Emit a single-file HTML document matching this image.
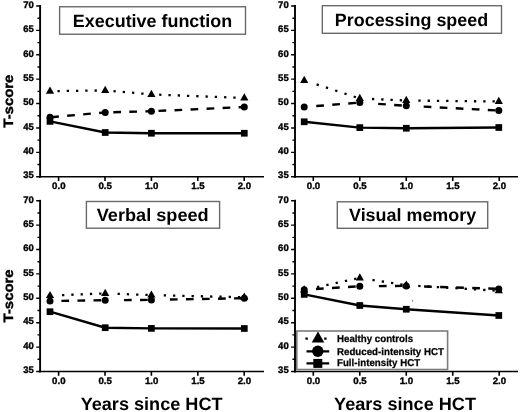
<!DOCTYPE html>
<html lang="en"><head><meta charset="utf-8"><title>T-score by years since HCT</title>
<style>html,body{margin:0;padding:0;background:#fff}body{width:520px;height:412px;overflow:hidden}svg{display:block}text{font-family:"Liberation Sans", Arial, sans-serif;font-weight:700;fill:#000;text-rendering:geometricPrecision}</style></head><body>
<svg width="520" height="412" viewBox="0 0 520 412">
<rect width="520" height="412" fill="#fff"/>
<path d="M40.10 5.10V177.63" stroke="#000" stroke-width="1.9" fill="none"/>
<path d="M39.20 176.73H264.00" stroke="#000" stroke-width="1.65" fill="none"/>
<path d="M36.20 6.00H40.10M37.50 18.20H40.10M36.20 30.39H40.10M37.50 42.59H40.10M36.20 54.78H40.10M37.50 66.97H40.10M36.20 79.17H40.10M37.50 91.37H40.10M36.20 103.56H40.10M37.50 115.75H40.10M36.20 127.95H40.10M37.50 140.15H40.10M36.20 152.34H40.10M37.50 164.53H40.10M36.20 176.73H40.10" stroke="#000" stroke-width="1.4" fill="none"/>
<text transform="translate(33.80 7.75)" font-size="9.5" text-anchor="end" stroke="#000" stroke-width="0.35">70</text>
<text transform="translate(33.80 32.14)" font-size="9.5" text-anchor="end" stroke="#000" stroke-width="0.35">65</text>
<text transform="translate(33.80 56.53)" font-size="9.5" text-anchor="end" stroke="#000" stroke-width="0.35">60</text>
<text transform="translate(33.80 80.92)" font-size="9.5" text-anchor="end" stroke="#000" stroke-width="0.35">55</text>
<text transform="translate(33.80 105.31)" font-size="9.5" text-anchor="end" stroke="#000" stroke-width="0.35">50</text>
<text transform="translate(33.80 129.70)" font-size="9.5" text-anchor="end" stroke="#000" stroke-width="0.35">45</text>
<text transform="translate(33.80 154.09)" font-size="9.5" text-anchor="end" stroke="#000" stroke-width="0.35">40</text>
<text transform="translate(33.80 178.48)" font-size="9.5" text-anchor="end" stroke="#000" stroke-width="0.35">35</text>
<path d="M58.60 176.73V180.93M105.00 176.73V180.93M151.40 176.73V180.93M197.80 176.73V180.93M244.20 176.73V180.93" stroke="#000" stroke-width="1.6" fill="none"/>
<text transform="translate(58.80 189.33) scale(1.0300 1.0000)" font-size="9.4" text-anchor="middle" stroke="#000" stroke-width="0.35">0.0</text>
<text transform="translate(105.20 189.33) scale(1.0300 1.0000)" font-size="9.4" text-anchor="middle" stroke="#000" stroke-width="0.35">0.5</text>
<text transform="translate(151.60 189.33) scale(1.0300 1.0000)" font-size="9.4" text-anchor="middle" stroke="#000" stroke-width="0.35">1.0</text>
<text transform="translate(198.00 189.33) scale(1.0300 1.0000)" font-size="9.4" text-anchor="middle" stroke="#000" stroke-width="0.35">1.5</text>
<text transform="translate(244.40 189.33) scale(1.0300 1.0000)" font-size="9.4" text-anchor="middle" stroke="#000" stroke-width="0.35">2.0</text>
<path d="M50.00 91.20L105.20 90.40" fill="none" stroke="#000" stroke-width="2.3" stroke-dasharray="0 7.45 2.3 6.97 2.3 6.97 2.3 6.97 2.3 6.97 2.3 6.97 2.3 6.97 2.3 6.97"/>
<path d="M105.20 90.40L151.40 94.40" fill="none" stroke="#000" stroke-width="2.3" stroke-dasharray="0 8.29 2.3 7.00 2.3 7.00 2.3 7.00 2.3 7.00 2.3 7.00 2.3 7.00"/>
<path d="M151.40 94.40L244.30 98.00" fill="none" stroke="#000" stroke-width="2.3" stroke-dasharray="0 7.76 2.3 6.98 2.3 6.98 2.3 6.98 2.3 6.98 2.3 6.98 2.3 6.98 2.3 6.98 2.3 6.98 2.3 6.98 2.3 6.98 2.3 6.98 2.3 6.98"/>
<path d="M50.00 86.50L54.10 93.70H45.90Z"/>
<path d="M105.20 85.70L109.30 92.90H101.10Z"/>
<path d="M151.40 89.70L155.50 96.90H147.30Z"/>
<path d="M244.30 93.30L248.40 100.50H240.20Z"/>
<path d="M50.00 117.30L105.20 112.40" fill="none" stroke="#000" stroke-width="2.4" stroke-dasharray="0 1.20 7.7 8.35 7.7 8.35 7.7 8.35 7.7 8.35 7.7 8.35"/>
<path d="M105.20 112.40L151.40 111.25" fill="none" stroke="#000" stroke-width="2.4" stroke-dasharray="0 8.10 7.7 8.35 7.7 8.35 7.7 8.35 7.7 8.35"/>
<path d="M151.40 111.25L244.30 107.00" fill="none" stroke="#000" stroke-width="2.4" stroke-dasharray="0 7.10 7.7 8.35 7.7 8.35 7.7 8.35 7.7 8.35 7.7 8.35 7.7 8.35 7.7 8.35"/>
<circle cx="50.00" cy="117.30" r="3.5"/>
<circle cx="105.20" cy="112.40" r="3.5"/>
<circle cx="151.40" cy="111.25" r="3.5"/>
<circle cx="244.30" cy="107.00" r="3.5"/>
<path d="M50.00 121.40L105.20 132.50L151.40 133.25L244.30 133.25" fill="none" stroke="#000" stroke-width="2.4"/>
<rect x="46.65" y="118.05" width="6.7" height="6.7"/>
<rect x="101.85" y="129.15" width="6.7" height="6.7"/>
<rect x="148.05" y="129.90" width="6.7" height="6.7"/>
<rect x="240.95" y="129.90" width="6.7" height="6.7"/>
<rect x="59.60" y="6.75" width="185.90" height="27.50" fill="#fff" stroke="#6a6a6a" stroke-width="1.4"/>
<text transform="translate(152.50 26.60) scale(1.0080 1.0000)" font-size="17.8" text-anchor="middle" >Executive function</text>
<path d="M295.00 5.10V177.63" stroke="#000" stroke-width="1.9" fill="none"/>
<path d="M294.10 176.73H518.00" stroke="#000" stroke-width="1.65" fill="none"/>
<path d="M291.10 6.00H295.00M292.40 18.20H295.00M291.10 30.39H295.00M292.40 42.59H295.00M291.10 54.78H295.00M292.40 66.97H295.00M291.10 79.17H295.00M292.40 91.37H295.00M291.10 103.56H295.00M292.40 115.75H295.00M291.10 127.95H295.00M292.40 140.15H295.00M291.10 152.34H295.00M292.40 164.53H295.00M291.10 176.73H295.00" stroke="#000" stroke-width="1.4" fill="none"/>
<text transform="translate(288.70 7.75)" font-size="9.5" text-anchor="end" stroke="#000" stroke-width="0.35">70</text>
<text transform="translate(288.70 32.14)" font-size="9.5" text-anchor="end" stroke="#000" stroke-width="0.35">65</text>
<text transform="translate(288.70 56.53)" font-size="9.5" text-anchor="end" stroke="#000" stroke-width="0.35">60</text>
<text transform="translate(288.70 80.92)" font-size="9.5" text-anchor="end" stroke="#000" stroke-width="0.35">55</text>
<text transform="translate(288.70 105.31)" font-size="9.5" text-anchor="end" stroke="#000" stroke-width="0.35">50</text>
<text transform="translate(288.70 129.70)" font-size="9.5" text-anchor="end" stroke="#000" stroke-width="0.35">45</text>
<text transform="translate(288.70 154.09)" font-size="9.5" text-anchor="end" stroke="#000" stroke-width="0.35">40</text>
<text transform="translate(288.70 178.48)" font-size="9.5" text-anchor="end" stroke="#000" stroke-width="0.35">35</text>
<path d="M313.30 176.73V180.93M359.78 176.73V180.93M406.26 176.73V180.93M452.74 176.73V180.93M499.22 176.73V180.93" stroke="#000" stroke-width="1.6" fill="none"/>
<text transform="translate(313.50 189.33) scale(1.0300 1.0000)" font-size="9.4" text-anchor="middle" stroke="#000" stroke-width="0.35">0.0</text>
<text transform="translate(359.98 189.33) scale(1.0300 1.0000)" font-size="9.4" text-anchor="middle" stroke="#000" stroke-width="0.35">0.5</text>
<text transform="translate(406.46 189.33) scale(1.0300 1.0000)" font-size="9.4" text-anchor="middle" stroke="#000" stroke-width="0.35">1.0</text>
<text transform="translate(452.94 189.33) scale(1.0300 1.0000)" font-size="9.4" text-anchor="middle" stroke="#000" stroke-width="0.35">1.5</text>
<text transform="translate(499.42 189.33) scale(1.0300 1.0000)" font-size="9.4" text-anchor="middle" stroke="#000" stroke-width="0.35">2.0</text>
<path d="M304.20 80.40L359.80 98.50" fill="none" stroke="#000" stroke-width="2.3" stroke-dasharray="0 13.05 2.3 7.45 2.3 7.45 2.3 7.45 2.3 7.45 2.3 7.45 2.3 7.45 2.3 7.45"/>
<path d="M359.80 98.50L406.30 100.50" fill="none" stroke="#000" stroke-width="2.3" stroke-dasharray="0 12.16 2.3 6.98 2.3 6.98 2.3 6.98 2.3 6.98 2.3 6.98 2.3 6.98 2.3 6.98"/>
<path d="M406.30 100.50L498.80 101.50" fill="none" stroke="#000" stroke-width="2.3" stroke-dasharray="0 12.05 2.3 6.97 2.3 6.97 2.3 6.97 2.3 6.97 2.3 6.97 2.3 6.97 2.3 6.97 2.3 6.97 2.3 6.97 2.3 6.97 2.3 6.97"/>
<path d="M304.20 75.70L308.30 82.90H300.10Z"/>
<path d="M359.80 93.80L363.90 101.00H355.70Z"/>
<path d="M406.30 95.80L410.40 103.00H402.20Z"/>
<path d="M498.80 96.80L502.90 104.00H494.70Z"/>
<path d="M304.20 107.00L359.80 102.60" fill="none" stroke="#000" stroke-width="2.4" stroke-dasharray="0 12.10 7.7 8.35 7.7 8.35 7.7 8.35 7.7 8.35 7.7 8.35"/>
<path d="M359.80 102.60L406.30 105.75" fill="none" stroke="#000" stroke-width="2.4" stroke-dasharray="0 18.40 7.7 8.35 7.7 8.35 7.7 8.35 7.7 8.35"/>
<path d="M406.30 105.75L498.80 110.50" fill="none" stroke="#000" stroke-width="2.4" stroke-dasharray="0 17.40 7.7 8.35 7.7 8.35 7.7 8.35 7.7 8.35 7.7 8.35 7.7 8.35 7.7 8.35"/>
<circle cx="304.20" cy="107.00" r="3.5"/>
<circle cx="359.80" cy="102.60" r="3.5"/>
<circle cx="406.30" cy="105.75" r="3.5"/>
<circle cx="498.80" cy="110.50" r="3.5"/>
<path d="M304.20 121.80L359.80 127.60L406.30 128.25L498.80 127.50" fill="none" stroke="#000" stroke-width="2.4"/>
<rect x="300.85" y="118.45" width="6.7" height="6.7"/>
<rect x="356.45" y="124.25" width="6.7" height="6.7"/>
<rect x="402.95" y="124.90" width="6.7" height="6.7"/>
<rect x="495.45" y="124.15" width="6.7" height="6.7"/>
<rect x="322.30" y="5.70" width="179.20" height="27.60" fill="#fff" stroke="#6a6a6a" stroke-width="1.4"/>
<text transform="translate(411.50 25.70) scale(1.0080 1.0000)" font-size="17.8" text-anchor="middle" >Processing speed</text>
<path d="M40.10 199.85V372.38" stroke="#000" stroke-width="1.9" fill="none"/>
<path d="M39.20 371.48H264.00" stroke="#000" stroke-width="1.65" fill="none"/>
<path d="M36.20 200.75H40.10M37.50 212.94H40.10M36.20 225.14H40.10M37.50 237.33H40.10M36.20 249.53H40.10M37.50 261.73H40.10M36.20 273.92H40.10M37.50 286.12H40.10M36.20 298.31H40.10M37.50 310.50H40.10M36.20 322.70H40.10M37.50 334.89H40.10M36.20 347.09H40.10M37.50 359.29H40.10M36.20 371.48H40.10" stroke="#000" stroke-width="1.4" fill="none"/>
<text transform="translate(33.80 202.50)" font-size="9.5" text-anchor="end" stroke="#000" stroke-width="0.35">70</text>
<text transform="translate(33.80 226.89)" font-size="9.5" text-anchor="end" stroke="#000" stroke-width="0.35">65</text>
<text transform="translate(33.80 251.28)" font-size="9.5" text-anchor="end" stroke="#000" stroke-width="0.35">60</text>
<text transform="translate(33.80 275.67)" font-size="9.5" text-anchor="end" stroke="#000" stroke-width="0.35">55</text>
<text transform="translate(33.80 300.06)" font-size="9.5" text-anchor="end" stroke="#000" stroke-width="0.35">50</text>
<text transform="translate(33.80 324.45)" font-size="9.5" text-anchor="end" stroke="#000" stroke-width="0.35">45</text>
<text transform="translate(33.80 348.84)" font-size="9.5" text-anchor="end" stroke="#000" stroke-width="0.35">40</text>
<text transform="translate(33.80 373.23)" font-size="9.5" text-anchor="end" stroke="#000" stroke-width="0.35">35</text>
<path d="M58.60 371.48V375.68M105.00 371.48V375.68M151.40 371.48V375.68M197.80 371.48V375.68M244.20 371.48V375.68" stroke="#000" stroke-width="1.6" fill="none"/>
<text transform="translate(58.80 384.08) scale(1.0300 1.0000)" font-size="9.4" text-anchor="middle" stroke="#000" stroke-width="0.35">0.0</text>
<text transform="translate(105.20 384.08) scale(1.0300 1.0000)" font-size="9.4" text-anchor="middle" stroke="#000" stroke-width="0.35">0.5</text>
<text transform="translate(151.60 384.08) scale(1.0300 1.0000)" font-size="9.4" text-anchor="middle" stroke="#000" stroke-width="0.35">1.0</text>
<text transform="translate(198.00 384.08) scale(1.0300 1.0000)" font-size="9.4" text-anchor="middle" stroke="#000" stroke-width="0.35">1.5</text>
<text transform="translate(244.40 384.08) scale(1.0300 1.0000)" font-size="9.4" text-anchor="middle" stroke="#000" stroke-width="0.35">2.0</text>
<path d="M50.00 295.60L105.20 293.40" fill="none" stroke="#000" stroke-width="2.3" stroke-dasharray="0 12.06 2.3 6.98 2.3 6.98 2.3 6.98 2.3 6.98 2.3 6.98 2.3 6.98 2.3 6.98"/>
<path d="M105.20 293.40L151.40 295.10" fill="none" stroke="#000" stroke-width="2.3" stroke-dasharray="0 12.36 2.3 6.98 2.3 6.98 2.3 6.98 2.3 6.98 2.3 6.98 2.3 6.98"/>
<path d="M151.40 295.10L244.30 297.30" fill="none" stroke="#000" stroke-width="2.3" stroke-dasharray="0 12.35 2.3 6.97 2.3 6.97 2.3 6.97 2.3 6.97 2.3 6.97 2.3 6.97 2.3 6.97 2.3 6.97 2.3 6.97 2.3 6.97 2.3 6.97 2.3 6.97"/>
<path d="M50.00 290.90L54.10 298.10H45.90Z"/>
<path d="M105.20 288.70L109.30 295.90H101.10Z"/>
<path d="M151.40 290.40L155.50 297.60H147.30Z"/>
<path d="M244.30 292.60L248.40 299.80H240.20Z"/>
<path d="M50.00 301.00L105.20 300.20" fill="none" stroke="#000" stroke-width="2.4" stroke-dasharray="0 11.40 7.7 8.35 7.7 8.35 7.7 8.35 7.7 8.35 7.7 8.35"/>
<path d="M105.20 300.20L151.40 299.90" fill="none" stroke="#000" stroke-width="2.4" stroke-dasharray="0 18.80 7.7 8.35 7.7 8.35 7.7 8.35 7.7 8.35"/>
<path d="M151.40 299.90L244.30 298.20" fill="none" stroke="#000" stroke-width="2.4" stroke-dasharray="0 18.50 7.7 8.35 7.7 8.35 7.7 8.35 7.7 8.35 7.7 8.35 7.7 8.35 7.7 8.35"/>
<circle cx="50.00" cy="301.00" r="3.5"/>
<circle cx="105.20" cy="300.20" r="3.5"/>
<circle cx="151.40" cy="299.90" r="3.5"/>
<circle cx="244.30" cy="298.20" r="3.5"/>
<path d="M50.00 311.70L105.20 327.70L151.40 328.40L244.30 328.50" fill="none" stroke="#000" stroke-width="2.4"/>
<rect x="46.65" y="308.35" width="6.7" height="6.7"/>
<rect x="101.85" y="324.35" width="6.7" height="6.7"/>
<rect x="148.05" y="325.05" width="6.7" height="6.7"/>
<rect x="240.95" y="325.15" width="6.7" height="6.7"/>
<rect x="86.40" y="201.50" width="133.20" height="26.70" fill="#fff" stroke="#6a6a6a" stroke-width="1.4"/>
<text transform="translate(152.70 220.80) scale(1.0200 1.0000)" font-size="17.8" text-anchor="middle" >Verbal speed</text>
<path d="M295.00 199.85V372.38" stroke="#000" stroke-width="1.9" fill="none"/>
<path d="M294.10 371.48H518.00" stroke="#000" stroke-width="1.65" fill="none"/>
<path d="M291.10 200.75H295.00M292.40 212.94H295.00M291.10 225.14H295.00M292.40 237.33H295.00M291.10 249.53H295.00M292.40 261.73H295.00M291.10 273.92H295.00M292.40 286.12H295.00M291.10 298.31H295.00M292.40 310.50H295.00M291.10 322.70H295.00M292.40 334.89H295.00M291.10 347.09H295.00M292.40 359.29H295.00M291.10 371.48H295.00" stroke="#000" stroke-width="1.4" fill="none"/>
<text transform="translate(288.70 202.50)" font-size="9.5" text-anchor="end" stroke="#000" stroke-width="0.35">70</text>
<text transform="translate(288.70 226.89)" font-size="9.5" text-anchor="end" stroke="#000" stroke-width="0.35">65</text>
<text transform="translate(288.70 251.28)" font-size="9.5" text-anchor="end" stroke="#000" stroke-width="0.35">60</text>
<text transform="translate(288.70 275.67)" font-size="9.5" text-anchor="end" stroke="#000" stroke-width="0.35">55</text>
<text transform="translate(288.70 300.06)" font-size="9.5" text-anchor="end" stroke="#000" stroke-width="0.35">50</text>
<text transform="translate(288.70 324.45)" font-size="9.5" text-anchor="end" stroke="#000" stroke-width="0.35">45</text>
<text transform="translate(288.70 348.84)" font-size="9.5" text-anchor="end" stroke="#000" stroke-width="0.35">40</text>
<text transform="translate(288.70 373.23)" font-size="9.5" text-anchor="end" stroke="#000" stroke-width="0.35">35</text>
<path d="M313.30 371.48V375.68M359.78 371.48V375.68M406.26 371.48V375.68M452.74 371.48V375.68M499.22 371.48V375.68" stroke="#000" stroke-width="1.6" fill="none"/>
<text transform="translate(313.50 384.08) scale(1.0300 1.0000)" font-size="9.4" text-anchor="middle" stroke="#000" stroke-width="0.35">0.0</text>
<text transform="translate(359.98 384.08) scale(1.0300 1.0000)" font-size="9.4" text-anchor="middle" stroke="#000" stroke-width="0.35">0.5</text>
<text transform="translate(406.46 384.08) scale(1.0300 1.0000)" font-size="9.4" text-anchor="middle" stroke="#000" stroke-width="0.35">1.0</text>
<text transform="translate(452.94 384.08) scale(1.0300 1.0000)" font-size="9.4" text-anchor="middle" stroke="#000" stroke-width="0.35">1.5</text>
<text transform="translate(499.42 384.08) scale(1.0300 1.0000)" font-size="9.4" text-anchor="middle" stroke="#000" stroke-width="0.35">2.0</text>
<path d="M304.20 290.00L359.80 278.00" fill="none" stroke="#000" stroke-width="2.3" stroke-dasharray="0 13.17 2.3 7.18 2.3 7.18 2.3 7.18 2.3 7.18 2.3 7.18 2.3 7.18 2.3 7.18"/>
<path d="M359.80 278.00L406.30 285.20" fill="none" stroke="#000" stroke-width="2.3" stroke-dasharray="0 12.81 2.3 7.08 2.3 7.08 2.3 7.08 2.3 7.08 2.3 7.08 2.3 7.08 2.3 7.08"/>
<path d="M406.30 285.20L498.80 290.80" fill="none" stroke="#000" stroke-width="2.3" stroke-dasharray="0 11.97 2.3 6.99 2.3 6.99 2.3 6.99 2.3 6.99 2.3 6.99 2.3 6.99 2.3 6.99 2.3 6.99 2.3 6.99 2.3 6.99 2.3 6.99"/>
<path d="M304.20 285.30L308.30 292.50H300.10Z"/>
<path d="M359.80 273.30L363.90 280.50H355.70Z"/>
<path d="M406.30 280.50L410.40 287.70H402.20Z"/>
<path d="M498.80 286.10L502.90 293.30H494.70Z"/>
<path d="M304.20 289.70L359.80 286.20" fill="none" stroke="#000" stroke-width="2.4" stroke-dasharray="0 11.80 7.7 8.35 7.7 8.35 7.7 8.35 7.7 8.35 7.7 8.35"/>
<path d="M359.80 286.20L406.30 285.90" fill="none" stroke="#000" stroke-width="2.4" stroke-dasharray="0 19.10 7.7 8.35 7.7 8.35 7.7 8.35 7.7 8.35"/>
<path d="M406.30 285.90L498.80 288.90" fill="none" stroke="#000" stroke-width="2.4" stroke-dasharray="0 17.80 7.7 8.35 7.7 8.35 7.7 8.35 7.7 8.35 7.7 8.35 7.7 8.35 7.7 8.35"/>
<circle cx="304.20" cy="289.70" r="3.5"/>
<circle cx="359.80" cy="286.20" r="3.5"/>
<circle cx="406.30" cy="285.90" r="3.5"/>
<circle cx="498.80" cy="288.90" r="3.5"/>
<path d="M304.20 294.40L359.80 305.50L406.30 309.25L498.80 315.50" fill="none" stroke="#000" stroke-width="2.4"/>
<rect x="300.85" y="291.05" width="6.7" height="6.7"/>
<rect x="356.45" y="302.15" width="6.7" height="6.7"/>
<rect x="402.95" y="305.90" width="6.7" height="6.7"/>
<rect x="495.45" y="312.15" width="6.7" height="6.7"/>
<rect x="337.30" y="201.80" width="150.40" height="26.50" fill="#fff" stroke="#6a6a6a" stroke-width="1.4"/>
<text transform="translate(412.60 221.00) scale(1.0080 1.0000)" font-size="17.8" text-anchor="middle" >Visual memory</text>
<rect x="296.8" y="331.0" width="150.8" height="38.5" fill="#fff" stroke="#7c7c7c" stroke-width="1.6"/>
<path d="M305.4 338.6H329.5" fill="none" stroke="#000" stroke-width="2.4" stroke-dasharray="2.4 16.4"/>
<path d="M318.00 331.50L324.30 342.50H311.70Z"/>
<path d="M306.5 351.3H329.2M306.5 363.3H329.2" fill="none" stroke="#000" stroke-width="2.3"/>
<circle cx="317.80" cy="351.30" r="5.7"/>
<rect x="313.30" y="358.90" width="9" height="9"/>
<text transform="translate(337.00 342.00) scale(0.9720 1.0000)" font-size="10.0" text-anchor="start" stroke="#000" stroke-width="0.25">Healthy controls</text>
<text transform="translate(337.00 354.50) scale(0.9720 1.0000)" font-size="10.0" text-anchor="start" stroke="#000" stroke-width="0.25">Reduced-intensity HCT</text>
<text transform="translate(337.00 366.40) scale(0.9720 1.0000)" font-size="10.0" text-anchor="start" stroke="#000" stroke-width="0.25">Full-intensity HCT</text>
<rect x="412.1" y="299.8" width="1" height="2" fill="#8a8a8a"/>
<text transform="translate(12.80 101.10) rotate(-90) scale(1.0650 0.9700)" font-size="14.0" text-anchor="middle" stroke="#000" stroke-width="0.4">T-score</text>
<text transform="translate(12.80 295.85) rotate(-90) scale(1.0650 0.9700)" font-size="14.0" text-anchor="middle" stroke="#000" stroke-width="0.4">T-score</text>
<text transform="translate(151.60 409.90) scale(1.0120 1.0000)" font-size="17.9" text-anchor="middle" >Years since HCT</text>
<text transform="translate(405.00 409.90) scale(1.0120 1.0000)" font-size="17.9" text-anchor="middle" >Years since HCT</text>
</svg></body></html>
